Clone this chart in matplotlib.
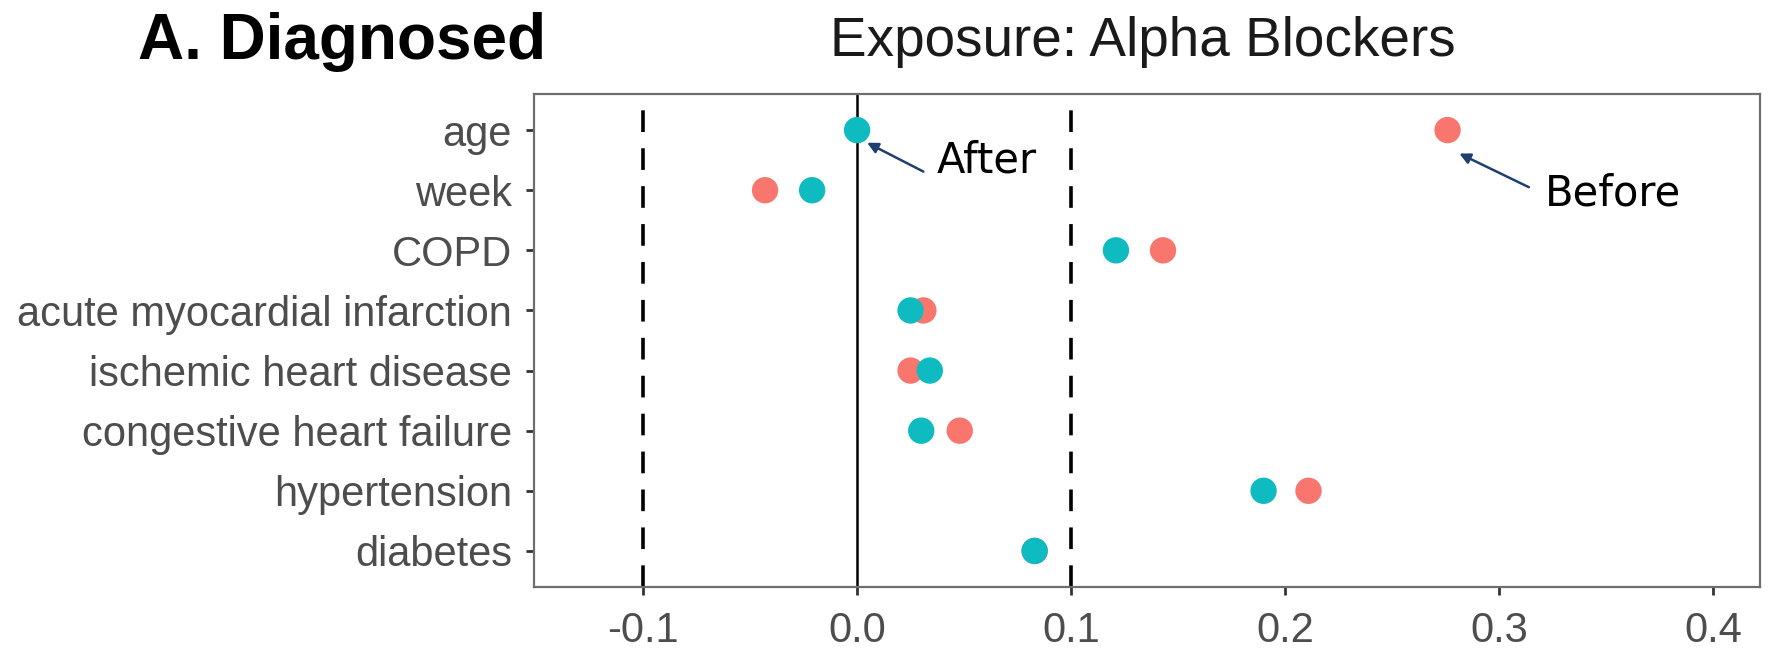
import matplotlib.pyplot as plt
import numpy as np

plt.rcParams['font.family'] = ['Liberation Sans', 'DejaVu Sans']

# covariates, top to bottom
labels = ['age', 'week', 'COPD', 'acute myocardial infarction',
          'ischemic heart disease', 'congestive heart failure',
          'hypertension', 'diabetes']
before = [0.276, -0.043, 0.143, 0.031, 0.025, 0.048, 0.211, 0.083]
after = [0.000, -0.021, 0.121, 0.025, 0.034, 0.030, 0.190, 0.083]
xticks = [-0.1, 0.0, 0.1, 0.2, 0.3, 0.4]
thresholds = [-0.1, 0.1]

red = '#F8766D'
teal = '#0DBBC0'
navy = '#1F3F6E'

ypos = np.arange(len(labels), 0, -1)

fig = plt.figure(figsize=(17.77, 6.53), dpi=100)
ax = fig.add_axes([0.3005, 0.1011, 0.6899, 0.7549])

for t in thresholds:
    ax.axvline(t, color='black', linestyle=(0, (6, 4.5)), linewidth=2.6, zorder=1)
ax.axvline(0, color='black', linewidth=1.8, zorder=1)

ax.scatter(before, ypos, s=360, color=red, edgecolors='none', zorder=3)
ax.scatter(after, ypos, s=360, color=teal, edgecolors='none', zorder=4)

ax.set_xlim(-0.151, 0.422)
ax.set_ylim(0.4, 8.6)
ax.set_yticks(ypos)
ax.set_yticklabels(labels)
ax.set_xticks(xticks)
ax.set_xticklabels([f'{v:.1f}' for v in xticks])
ax.tick_params(axis='both', colors='#333333', labelcolor='#4D4D4D',
               labelsize=30, length=6, width=2)
ax.tick_params(axis='y', pad=10)
ax.tick_params(axis='x', pad=11)
for sp in ax.spines.values():
    sp.set_color('#6E6E6E')
    sp.set_linewidth(1.6)

fig.text(0.0777, 0.935, 'A. Diagnosed', fontsize=46, fontweight='bold',
         va='center', ha='left')
fig.text(0.467, 0.935, 'Exposure: Alpha Blockers', fontsize=39.5,
         va='center', ha='left', color='#1A1A1A')

arrow = dict(arrowstyle='-|>', color=navy, lw=1.8, mutation_scale=16,
             shrinkA=0, shrinkB=0)
ax.annotate('', xy=(0.0047, 7.79), xytext=(0.031, 7.31), arrowprops=arrow)
ax.text(0.037, 7.5, 'After', fontsize=30, va='center', ha='left',
        family=['DejaVu Sans Condensed', 'DejaVu Sans'])
ax.annotate('', xy=(0.2815, 7.61), xytext=(0.314, 7.05), arrowprops=arrow)
ax.text(0.3217, 6.95, 'Before', fontsize=30, va='center', ha='left',
        family=['DejaVu Sans Condensed', 'DejaVu Sans'])

fig.savefig('out.png', dpi=100)
